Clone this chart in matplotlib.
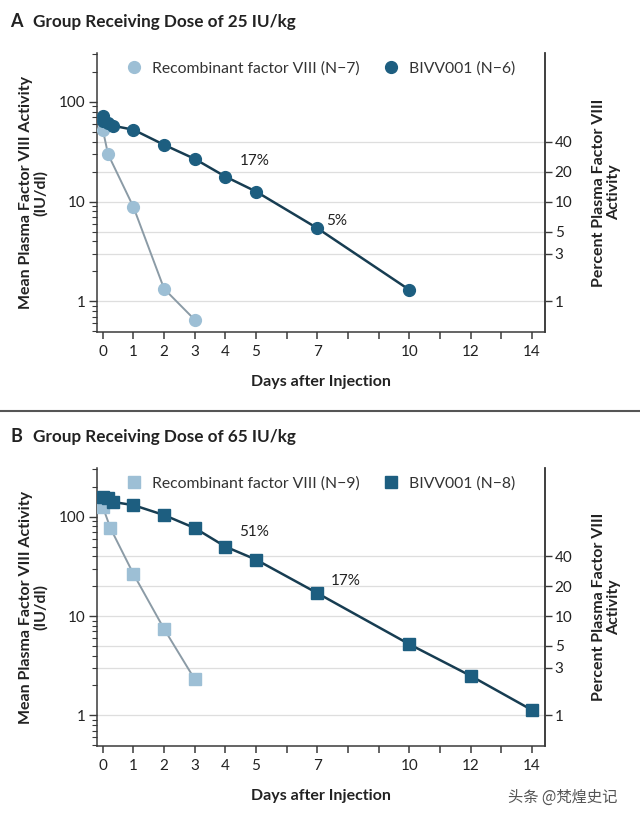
import matplotlib
matplotlib.use("Agg")
import matplotlib.pyplot as plt
from matplotlib.lines import Line2D
from matplotlib.ticker import FixedLocator, NullFormatter, LogLocator

plt.rcParams["font.family"] = ["Lato", "DejaVu Sans"]

# ---- data ----
a_rec_days = [0, 0.17, 1, 2, 3]
a_rec_vals = [52.6, 29.9, 8.8, 1.33, 0.65]
a_biv_days = [0, 0.02, 0.17, 0.33, 1, 2, 3, 4, 5, 7, 10]
a_biv_vals = [71.6, 63.7, 61.4, 57.7, 52.6, 37.1, 26.8, 17.8, 12.6, 5.4, 1.30]

b_rec_days = [0, 0.25, 1, 2, 3]
b_rec_vals = [125.6, 76.6, 26.5, 7.4, 2.3]
b_biv_days = [0, 0.17, 0.33, 1, 2, 3, 4, 5, 7, 10, 12, 14]
b_biv_vals = [158, 155, 141, 131, 104, 77, 50, 37, 17, 5.2, 2.5, 1.13]

x_ticklabels = [0, 1, 2, 3, 4, 5, 7, 10, 12, 14]
pct_ticks = [1, 3, 5, 10, 20, 40]

DARK = "#1d5e80"
DARK_LINE = "#173d52"
LIGHT = "#9dbfd5"
LIGHT_LINE = "#8b9ba6"
SPINE = "#3a3a3a"
TXT = "#222222"
WEIGHT = "bold"

fig = plt.figure(figsize=(6.4, 8.17), dpi=100)


def panel(rect, letter, title, rec_d, rec_v, biv_d, biv_v, marker, n_rec, n_biv, notes):
    ax = fig.add_axes(rect)
    ax.set_yscale("log")
    ax.set_xlim(-0.19, 14.43)
    ax.set_ylim(0.49, 310)

    for v in pct_ticks:
        ax.axhline(v, color="#dedede", lw=0.9, zorder=0)

    ax.plot(rec_d, rec_v, color=LIGHT_LINE, lw=1.4, zorder=2)
    ax.plot(rec_d, rec_v, ls="none", marker=marker, ms=8.5, mfc=LIGHT, mec=LIGHT, zorder=3)
    ax.plot(biv_d, biv_v, color=DARK_LINE, lw=1.8, zorder=4)
    ax.plot(biv_d, biv_v, ls="none", marker=marker, ms=8.5, mfc=DARK, mec=DARK, zorder=5)

    for idx, txt, dx, dy in notes:
        ax.annotate(txt, (biv_d[idx], biv_v[idx]), xytext=(dx, dy),
                    textcoords="offset points", fontsize=11, color=TXT)

    ax.spines["top"].set_visible(False)
    for s in ("left", "bottom", "right"):
        ax.spines[s].set_color(SPINE)
        ax.spines[s].set_linewidth(1.1)

    ax.set_xticks(range(0, 15))
    ax.set_xticklabels([str(i) if i in x_ticklabels else "" for i in range(0, 15)])
    ax.tick_params(axis="x", length=5, width=1.1, color=SPINE, labelsize=11,
                   labelcolor=TXT, pad=4)

    ax.yaxis.set_major_locator(FixedLocator([1, 10, 100]))
    ax.set_yticklabels(["1", "10", "100"])
    ax.yaxis.set_minor_locator(LogLocator(base=10, subs=range(2, 10)))
    ax.yaxis.set_minor_formatter(NullFormatter())
    ax.tick_params(axis="y", which="major", length=6, width=1.0, color=SPINE,
                   labelsize=11, labelcolor=TXT, pad=2)
    ax.tick_params(axis="y", which="minor", length=3.5, width=0.8, color=SPINE)

    ax.set_xlabel("Days after Injection", fontsize=11.5, fontweight=WEIGHT,
                  color=TXT, labelpad=12)
    ax.set_ylabel("Mean Plasma Factor VIII Activity\n(IU/dl)", fontsize=11.5,
                  fontweight=WEIGHT, color=TXT, labelpad=8, linespacing=1.1)

    ax2 = ax.twinx()
    ax2.set_yscale("log")
    ax2.set_ylim(ax.get_ylim())
    ax2.yaxis.set_major_locator(FixedLocator(pct_ticks))
    ax2.set_yticklabels([str(v) for v in pct_ticks])
    ax2.yaxis.set_minor_locator(FixedLocator([]))
    ax2.tick_params(axis="y", length=5, width=1.0, color=SPINE, labelsize=11,
                    labelcolor=TXT, pad=2)
    for s in ("top", "left", "bottom"):
        ax2.spines[s].set_visible(False)
    ax2.spines["right"].set_color(SPINE)
    ax2.spines["right"].set_linewidth(1.1)
    ax2.set_ylabel("Percent Plasma Factor VIII\nActivity", fontsize=11.5,
                   fontweight=WEIGHT, color=TXT, labelpad=14, linespacing=1.1)

    handles = [
        Line2D([], [], ls="none", marker=marker, ms=8.5, mfc=LIGHT, mec=LIGHT,
               label=f"Recombinant factor VIII (N\u2212{n_rec})"),
        Line2D([], [], ls="none", marker=marker, ms=8.5, mfc=DARK, mec=DARK,
               label=f"BIVV001 (N\u2212{n_biv})"),
    ]
    ax.legend(handles=handles, loc="upper left", bbox_to_anchor=(0.015, 1.02),
              ncol=2, frameon=False, fontsize=11.3, handletextpad=0.15,
              columnspacing=1.0, labelcolor="#333333")

    top = rect[1] + rect[3]
    fig.text(10 / 640, top + 0.0385, letter, fontsize=13, fontweight=WEIGHT,
             color=TXT, va="center")
    fig.text(33 / 640, top + 0.0385, title, fontsize=12.3, fontweight=WEIGHT,
             color=TXT, va="center")
    return ax


panel([97 / 640, 1 - 332 / 817, 448 / 640, 279 / 817], "A",
      "Group Receiving Dose of 25 IU/kg",
      a_rec_days, a_rec_vals, a_biv_days, a_biv_vals, "o", 7, 6,
      [(7, "17%", 10, 8), (9, "5%", 6, 2)])

panel([97 / 640, 1 - 746 / 817, 448 / 640, 278 / 817], "B",
      "Group Receiving Dose of 65 IU/kg",
      b_rec_days, b_rec_vals, b_biv_days, b_biv_vals, "s", 9, 8,
      [(6, "51%", 10, 8), (8, "17%", 10, 6)])

# separator between panels
fig.add_artist(Line2D([0, 1], [1 - 411 / 817, 1 - 411 / 817], color="#555555", lw=1.5))

fig.text(508 / 640, 1 - 797 / 817, "头条 @梵煌史记", fontsize=11, color="#555555",
         va="center", family=["Noto Sans CJK SC", "DejaVu Sans"])

fig.savefig("out.png", dpi=100)
